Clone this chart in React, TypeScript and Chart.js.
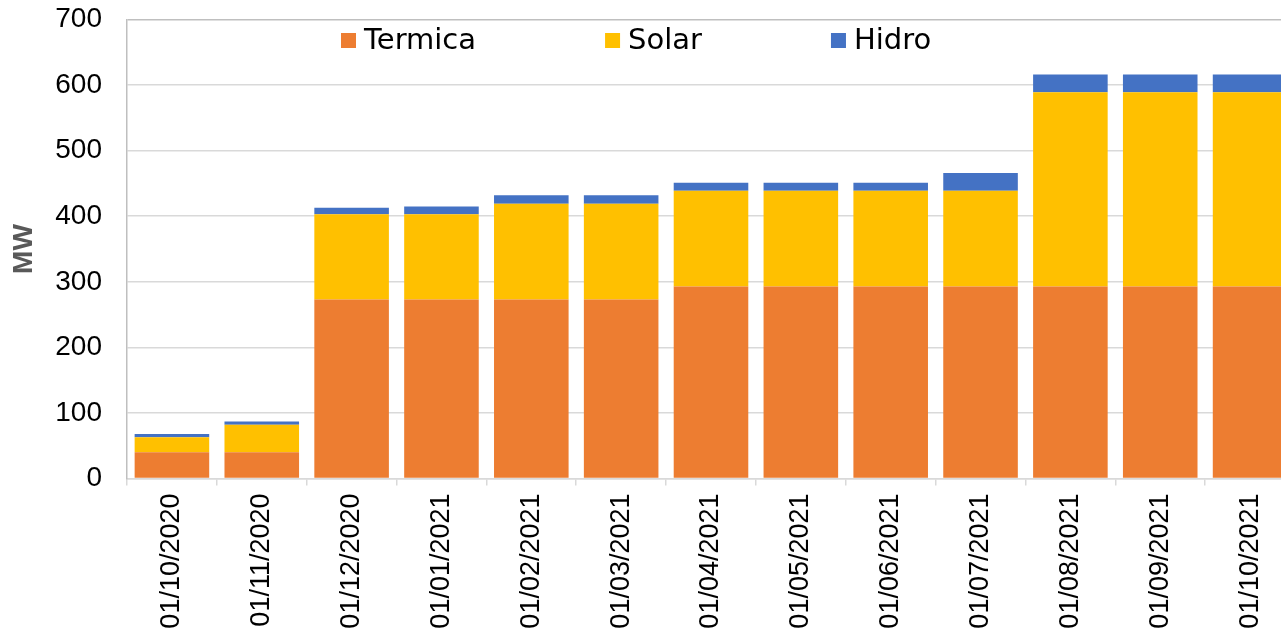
import React, { useEffect, useRef } from "react";
import { Chart, registerables } from "chart.js";

Chart.register(...registerables);

const categories = [
  "01/10/2020", "01/11/2020", "01/12/2020", "01/01/2021", "01/02/2021", "01/03/2021",
  "01/04/2021", "01/05/2021", "01/06/2021", "01/07/2021", "01/08/2021", "01/09/2021", "01/10/2021",
];
const termica = [40, 40, 273, 273, 273, 273, 293, 293, 293, 293, 293, 293, 293];
const solar = [23, 42, 130, 130, 146, 146, 146, 146, 146, 146, 296, 296, 296];
const hidro = [5, 5, 10, 12, 13, 13, 12, 12, 12, 27, 27, 27, 27];
const seriesNames = ["Termica", "Solar", "Hidro"];
const seriesColors = ["#ED7D31", "#FFC000", "#4472C4"];
const yTicks = [0, 100, 200, 300, 400, 500, 600, 700];

const AXIS_FONT = "'Liberation Sans', Arial, sans-serif";

const insideLegend = {
  id: "insideLegend",
  afterDraw(chart: any) {
    const ctx = chart.ctx;
    const area = chart.chartArea;
    ctx.save();
    ctx.font = "29px 'DejaVu Sans', sans-serif";
    ctx.textBaseline = "middle";
    ctx.textAlign = "left";
    let x = area.left + 214;
    const y = area.top + 21;
    chart.data.datasets.forEach((ds: any) => {
      ctx.fillStyle = ds.backgroundColor;
      ctx.fillRect(x, y - 7.5, 15, 15);
      ctx.fillStyle = "#000000";
      ctx.fillText(ds.label, x + 23, y + 1);
      x += 23 + ctx.measureText(ds.label).width + 129;
    });
    ctx.restore();
  },
};

export default function App() {
  const ref = useRef<HTMLCanvasElement | null>(null);

  useEffect(() => {
    if (!ref.current) return;
    const chart = new Chart(ref.current, {
      type: "bar",
      data: {
        labels: categories,
        datasets: [termica, solar, hidro].map((d, i) => ({
          label: seriesNames[i],
          data: d,
          backgroundColor: seriesColors[i],
          borderWidth: 0,
          barPercentage: 1,
          categoryPercentage: 0.83,
        })),
      },
      options: {
        responsive: false,
        animation: false,
        devicePixelRatio: 1,
        layout: { padding: { top: 19.5, right: 1, left: 0, bottom: 0 } },
        plugins: {
          legend: { display: false },
          tooltip: { enabled: false },
        },
        scales: {
          x: {
            stacked: true,
            afterFit: (s: any) => { s.height = 152.5; },
            grid: {
              drawOnChartArea: false,
              drawTicks: true,
              tickLength: 7,
              color: "#d9d9d9",
              lineWidth: 1.5,
            },
            border: { color: "#d9d9d9", width: 1.5 },
            ticks: {
              minRotation: 90,
              maxRotation: 90,
              padding: 8,
              color: "#000000",
              font: { family: AXIS_FONT, size: 27 },
              autoSkip: false,
            },
          },
          y: {
            stacked: true,
            min: 0,
            max: 700,
            afterFit: (s: any) => {
              s.width = 127;
              s.paddingTop = 0;
              s.paddingBottom = 0;
            },
            afterBuildTicks: (s: any) => { s.ticks = yTicks.map((v) => ({ value: v })); },
            grid: {
              drawTicks: false,
              color: (c: any) => (c.tick && c.tick.value === 700 ? "#bfbfbf" : "#d9d9d9"),
              lineWidth: 1.5,
            },
            border: { color: "#bfbfbf", width: 1.5 },
            ticks: {
              padding: 25,
              color: "#000000",
              font: { family: AXIS_FONT, size: 28 },
            },
            title: {
              display: true,
              text: "MW",
              color: "#595959",
              padding: { top: 7, bottom: 0 },
              font: { family: AXIS_FONT, size: 28, weight: "bold" },
            },
          },
        },
      },
      plugins: [insideLegend],
    });
    return () => chart.destroy();
  }, []);

  return (
    <div
      style={{
        position: "fixed",
        left: 0,
        top: 0,
        width: 1281,
        height: 631,
        overflow: "hidden",
        background: "#ffffff",
      }}
    >
      <canvas ref={ref} width={1296} height={631} style={{ display: "block", width: 1296, height: 631 }} />
    </div>
  );
}
